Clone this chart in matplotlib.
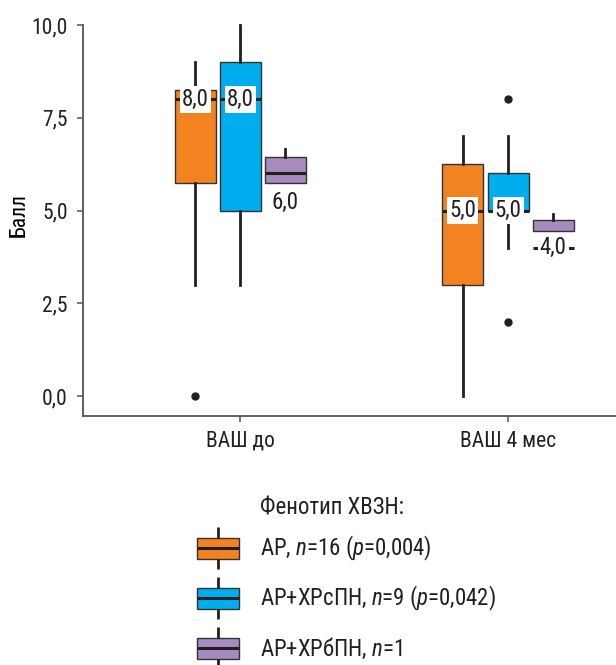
import matplotlib
matplotlib.use("Agg")
import matplotlib.pyplot as plt
from matplotlib.patches import Rectangle
from matplotlib.lines import Line2D
from matplotlib.ticker import FixedLocator

FONT = "Roboto Condensed"
plt.rcParams['font.family'] = [FONT, 'DejaVu Sans']
plt.rcParams['mathtext.fontset'] = 'custom'
plt.rcParams['mathtext.rm'] = FONT
plt.rcParams['mathtext.it'] = FONT + ':italic'

# ---- data ----
groups = ["ВАШ до", "ВАШ 4 мес"]
phenotypes = ["АР", "АР+ХРсПН", "АР+ХРбПН"]
legend_title = "Фенотип ХВЗН:"
legend_labels = ["АР, $\\mathit{n}$=16 ($\\mathit{p}$=0,004)",
                 "АР+ХРсПН, $\\mathit{n}$=9 ($\\mathit{p}$=0,042)",
                 "АР+ХРбПН, $\\mathit{n}$=1"]
colors = ["#F38320", "#00AEEF", "#A68BBF"]

# per phenotype: values for [ВАШ до, ВАШ 4 мес]
q1 = {"АР": [5.75, 3.0], "АР+ХРсПН": [5.0, 5.0], "АР+ХРбПН": [5.75, 4.45]}
q3 = {"АР": [8.25, 6.25], "АР+ХРсПН": [9.0, 6.0], "АР+ХРбПН": [6.45, 4.75]}
med = {"АР": [8.0, 5.0], "АР+ХРсПН": [8.0, 5.0], "АР+ХРбПН": [6.0, 4.0]}
whislo = {"АР": [3.0, 0.0], "АР+ХРсПН": [3.0, 4.0], "АР+ХРбПН": [5.75, 4.45]}
whishi = {"АР": [9.0, 7.0], "АР+ХРсПН": [10.0, 7.0], "АР+ХРбПН": [6.65, 4.92]}
fliers = {"АР": [[0.0], []], "АР+ХРсПН": [[], [8.0, 2.0]], "АР+ХРбПН": [[], []]}
med_labels = {"АР": ["8,0", "5,0"], "АР+ХРсПН": ["8,0", "5,0"], "АР+ХРбПН": ["6,0", "4,0"]}
label_y = {"АР": [8.0, 5.0], "АР+ХРсПН": [8.0, 5.0], "АР+ХРбПН": [5.23, 4.0]}
label_bg = {"АР": [True, True], "АР+ХРсПН": [True, True], "АР+ХРбПН": [False, True]}

yticks = [0.0, 2.5, 5.0, 7.5, 10.0]
ytick_labels = ["0,0", "2,5", "5,0", "7,5", "10,0"]

# ---- figure ----
W, H = 616, 665
fig = plt.figure(figsize=(W / 100, H / 100), dpi=100)
ax = fig.add_axes([83/W, 1 - 415.5/H, 1 - 83/W, (415.5 - 25)/H])

offsets = [-0.168, 0.0, 0.168]
width = 0.153
edge = "#333333"
ink = "#231F20"
for k, ph in enumerate(phenotypes):
    stats = []
    for g in range(len(groups)):
        stats.append(dict(med=med[ph][g], q1=q1[ph][g], q3=q3[ph][g],
                          whislo=whislo[ph][g], whishi=whishi[ph][g],
                          fliers=fliers[ph][g]))
    pos = [g + offsets[k] for g in range(len(groups))]
    ax.bxp(stats, positions=pos, widths=width, patch_artist=True,
           showcaps=False,
           boxprops=dict(facecolor=colors[k], edgecolor=edge, linewidth=1.0),
           medianprops=dict(color=ink, linewidth=2.2, solid_capstyle='butt'),
           whiskerprops=dict(color=ink, linewidth=2.0),
           flierprops=dict(marker='o', markerfacecolor=ink,
                           markeredgecolor=ink, markersize=5),
           manage_ticks=False)
    for g in range(len(groups)):
        bb = dict(facecolor='white', edgecolor='none', pad=1.5) if label_bg[ph][g] else None
        ax.text(pos[g], label_y[ph][g], med_labels[ph][g], ha='center', va='center',
                fontsize=16.5, color=ink, bbox=bb, zorder=5)

ax.set_xlim(-0.586, 1.403)
ax.set_ylim(-0.52, 10.0)
ax.set_xticks(range(len(groups)))
ax.set_xticklabels(groups, fontsize=15.5)
ax.yaxis.set_major_locator(FixedLocator(yticks))
ax.set_yticklabels(ytick_labels, fontsize=15.5)
ax.set_ylabel("Балл", fontsize=15.5)
ax.yaxis.set_label_coords(-0.1, 0.513)
for s in ['top', 'right']:
    ax.spines[s].set_visible(False)
for s in ['left', 'bottom']:
    ax.spines[s].set_color("#555555")
    ax.spines[s].set_linewidth(1.3)
ax.tick_params(axis='both', length=4.5, width=1.1, color="#555555", labelcolor=ink, pad=6.5)
for a in ax.get_children():
    try:
        a.set_clip_on(False)
    except Exception:
        pass

# ---- legend (box glyphs in pixel-based figure coordinates) ----
px = fig.dpi_scale_trans  # inches; 1 px = 0.01 in
def P(v):
    return v / 100.0

fig.text(260 / W, 1 - 508 / H, legend_title, fontsize=16.5, va='center', ha='left', color=ink)
leg_x0, leg_x1 = 197, 239
leg_rows = [548, 598, 648]
for c, lab, yc in zip(colors, legend_labels, leg_rows):
    yb = H - yc  # pixel y from bottom
    cx = (leg_x0 + leg_x1) / 2
    for y0, y1 in [(yb + 10.5, yb + 21), (yb - 21, yb - 10.5)]:
        fig.add_artist(Line2D([P(cx), P(cx)], [P(y0), P(y1)], color=ink,
                              linewidth=2.0, transform=px, solid_capstyle='butt',
                              zorder=3))
    fig.add_artist(Rectangle((P(leg_x0), P(yb - 10.5)), P(leg_x1 - leg_x0), P(21),
                             facecolor=c, edgecolor=edge, linewidth=1.0, transform=px,
                             zorder=2))
    fig.add_artist(Line2D([P(leg_x0), P(leg_x1)], [P(yb), P(yb)], color=ink,
                          linewidth=2.2, transform=px, solid_capstyle='butt', zorder=4))
    fig.text(260 / W, 1 - yc / H, lab, fontsize=16.5, va='center', ha='left', color=ink)

fig.savefig("out.png", dpi=100)
